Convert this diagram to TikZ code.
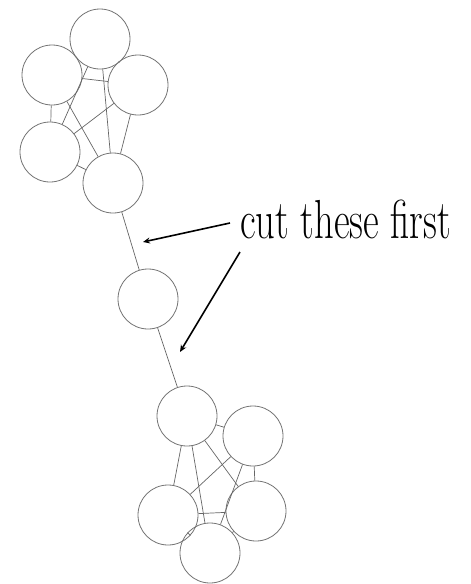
\documentclass[tikz,border=0pt]{standalone}
\usepackage{graphicx}
\usetikzlibrary{arrows.meta}
\begin{document}
\begin{tikzpicture}[x=1pt,y=-1pt,
  vertex/.style={circle,draw=black!55,line width=0.8pt,minimum size=60pt,inner sep=0pt},
  link/.style={draw=black!60,line width=0.7pt},
  pointer/.style={draw=black,line width=1.6pt,-{Stealth[length=7pt,width=6pt]}}]
\useasboundingbox (0,0) rectangle (471,584);
% upper cluster
\node[vertex] (a) at (100,39) {};
\node[vertex] (b) at (52,75) {};
\node[vertex] (c) at (138,85) {};
\node[vertex] (d) at (50,152) {};
\node[vertex] (e) at (113,183) {};
% bridge vertex
\node[vertex] (f) at (148,299) {};
% lower cluster
\node[vertex] (g) at (187,416) {};
\node[vertex] (h) at (253,436) {};
\node[vertex] (i) at (256,511) {};
\node[vertex] (j) at (168,515) {};
\node[vertex] (k) at (210,553) {};
% complete graph on each cluster
\foreach \u/\v in {a/b,a/c,a/d,a/e,b/c,b/d,b/e,c/d,c/e,d/e,
                   g/h,g/i,g/j,g/k,h/i,h/j,h/k,i/j,i/k,j/k}
  \draw[link] (\u) -- (\v);
% the two bridge edges
\draw[link] (e) -- (f);
\draw[link] (f) -- (g);
% label and pointers
\node[anchor=base west,inner sep=0pt] (lbl) at (240,238)
  {\scalebox{0.7}[1]{\fontsize{55}{60}\selectfont cut these first}};
\coordinate (t1) at (230,223);
\coordinate (h1) at (143,242);
\coordinate (t2) at (240,252);
\coordinate (h2) at (180,352);
\draw[pointer] (t1) -- (h1);
\draw[pointer] (t2) -- (h2);
\end{tikzpicture}
\end{document}
